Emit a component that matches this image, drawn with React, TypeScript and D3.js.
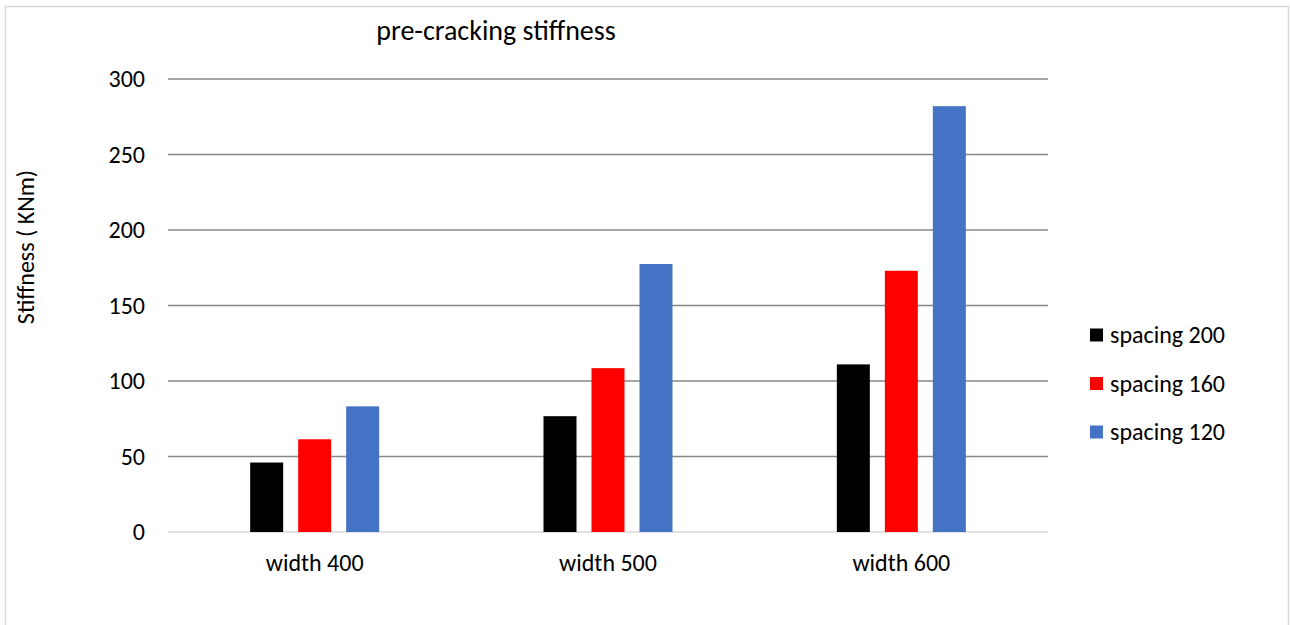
import * as d3 from "d3";

const categories = ["width 400", "width 500", "width 600"];
const seriesNames = ["spacing 200", "spacing 160", "spacing 120"];
const spacing200 = [46, 76.7, 111];
const spacing160 = [61.4, 108.5, 173];
const spacing120 = [83.2, 177.5, 282];
const yTicks = [0, 50, 100, 150, 200, 250, 300];
const colors = ["#000000", "#FF0000", "#4472C4"];

const width = 1290,
    height = 625;
const FONT = "Carlito, Calibri, Lato, 'Open Sans', sans-serif";

export default function App() {
    const values = [spacing200, spacing160, spacing120];
    const plot = { left: 168, right: 1048, top: 79, bottom: 532 };

    const x = d3.scaleBand().domain(categories).range([plot.left, plot.right]);
    const xInner = d3.scaleBand().domain(seriesNames).range([-64.5, 64.5]).paddingInner(0.3125);
    const y = d3.scaleLinear().domain([0, 300]).range([plot.bottom, plot.top]);

    const legendY = d3.scalePoint().domain(seriesNames).range([335, 432]);

    return (
        <div style={{ position: "absolute", left: 0, top: 0 }}>
            <svg width={width} height={height} style={{ display: "block", fontFamily: FONT }}>
                <rect x={5.5} y={6.5} width={1283} height={640} fill="#ffffff" stroke="#d9d9d9" strokeWidth={1.5} />

                <text x={496} y={30} dy="0.35em" textAnchor="middle" fontSize={28} fill="#000">
                    pre-cracking stiffness
                </text>

                {yTicks.map((t) => (
                    <g key={t}>
                        <line
                            x1={plot.left}
                            x2={plot.right}
                            y1={y(t)}
                            y2={y(t)}
                            stroke={t === 0 ? "#d9d9d9" : "#878787"}
                            strokeWidth={1.5}
                        />
                        <text x={145} y={y(t)} dy="0.35em" textAnchor="end" fontSize={24} fill="#000">
                            {t}
                        </text>
                    </g>
                ))}

                {categories.map((c, ci) => (
                    <g key={c} transform={`translate(${(x(c) as number) + x.bandwidth() / 2},0)`}>
                        {seriesNames.map((s, si) => (
                            <rect
                                key={s}
                                x={xInner(s)}
                                y={y(values[si][ci])}
                                width={xInner.bandwidth()}
                                height={y(0) - y(values[si][ci])}
                                fill={colors[si]}
                            />
                        ))}
                        <text x={0} y={563} dy="0.35em" textAnchor="middle" fontSize={24} fill="#000">
                            {c}
                        </text>
                    </g>
                ))}

                <text
                    transform={`translate(26,247) rotate(-90)`}
                    textAnchor="middle"
                    dy="0.35em"
                    fontSize={24}
                    fill="#000"
                >
                    Stiffness ( KNm)
                </text>

                {seriesNames.map((s, si) => (
                    <g key={s} transform={`translate(1090,${legendY(s)})`}>
                        <rect x={0} y={-6.5} width={13} height={13} fill={colors[si]} />
                        <text x={20} y={0} dy="0.35em" fontSize={24} fill="#000">
                            {s}
                        </text>
                    </g>
                ))}
            </svg>
        </div>
    );
}
